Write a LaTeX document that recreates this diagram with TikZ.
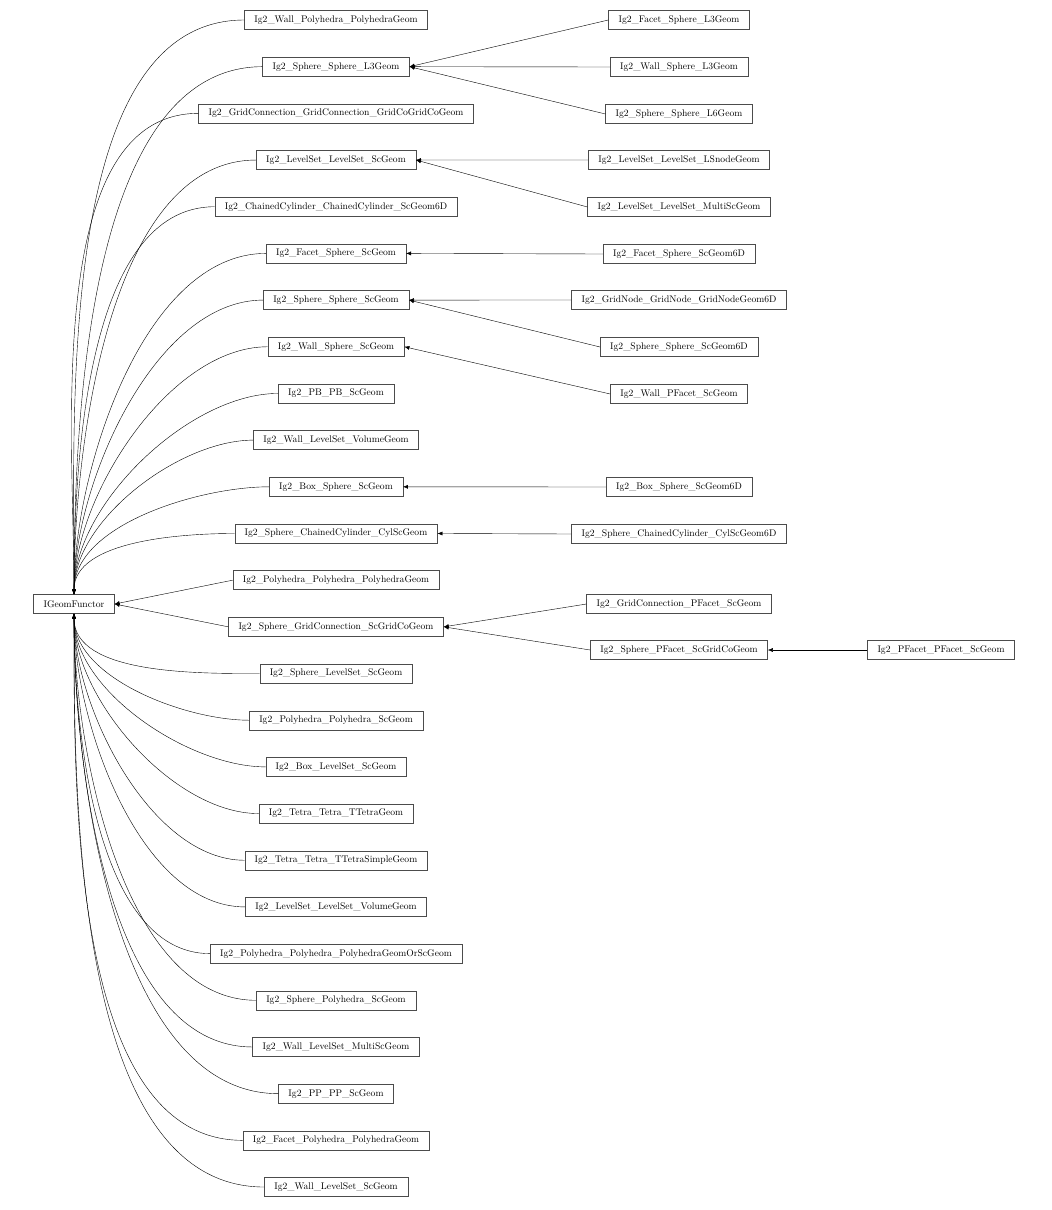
\documentclass[tikz,border=0pt]{standalone}
\usepackage{tikz}
\usetikzlibrary{positioning,arrows.meta}

\begin{document}
\begin{tikzpicture}[x=1pt, y=-1pt,
    cls/.style={draw=black!70, rectangle, minimum height=19pt, inner xsep=10pt,
                font=\fontsize{9.6}{11}\selectfont},
    inh/.style={-{Latex[length=5pt,width=4pt]}, line width=0.4pt}]
        \useasboundingbox (0,0) rectangle (1052,1210);

        \node[cls] (base) at (74,604) {IGeomFunctor};

        \foreach \t [count=\i] in {Ig2\_Wall\_Polyhedra\_PolyhedraGeom, Ig2\_Sphere\_Sphere\_L3Geom,
            Ig2\_GridConnection\_GridConnection\_GridCoGridCoGeom, Ig2\_LevelSet\_LevelSet\_ScGeom,
            Ig2\_ChainedCylinder\_ChainedCylinder\_ScGeom6D, Ig2\_Facet\_Sphere\_ScGeom,
            Ig2\_Sphere\_Sphere\_ScGeom, Ig2\_Wall\_Sphere\_ScGeom, Ig2\_PB\_PB\_ScGeom,
            Ig2\_Wall\_LevelSet\_VolumeGeom, Ig2\_Box\_Sphere\_ScGeom,
            Ig2\_Sphere\_ChainedCylinder\_CylScGeom, Ig2\_Polyhedra\_Polyhedra\_PolyhedraGeom,
            Ig2\_Sphere\_GridConnection\_ScGridCoGeom, Ig2\_Sphere\_LevelSet\_ScGeom,
            Ig2\_Polyhedra\_Polyhedra\_ScGeom, Ig2\_Box\_LevelSet\_ScGeom,
            Ig2\_Tetra\_Tetra\_TTetraGeom, Ig2\_Tetra\_Tetra\_TTetraSimpleGeom,
            Ig2\_LevelSet\_LevelSet\_VolumeGeom, Ig2\_Polyhedra\_Polyhedra\_PolyhedraGeomOrScGeom,
            Ig2\_Sphere\_Polyhedra\_ScGeom, Ig2\_Wall\_LevelSet\_MultiScGeom,
            Ig2\_PP\_PP\_ScGeom, Ig2\_Facet\_Polyhedra\_PolyhedraGeom, Ig2\_Wall\_LevelSet\_ScGeom}
            \node[cls] (l\i) at (336,{20+(\i-1)*46.68}) {\t};

        % edges to the base class
        \foreach \i in {1,...,12}
            \draw[inh] (l\i.west) to[out=180,in=90,looseness=0.8] (base.north);
        \foreach \i in {15,...,26}
            \draw[inh] (l\i.west) to[out=180,in=-90,looseness=0.8] (base.south);
        \draw[inh] (l13.west) -- (base.east);
        \draw[inh] (l14.west) -- (base.east);

        % second level
        \node[cls] (r1) at (679,20) {Ig2\_Facet\_Sphere\_L3Geom};
        \node[cls] (r2) at (679,67) {Ig2\_Wall\_Sphere\_L3Geom};
        \node[cls] (r3) at (679,114) {Ig2\_Sphere\_Sphere\_L6Geom};
        \node[cls] (r4) at (679,160) {Ig2\_LevelSet\_LevelSet\_LSnodeGeom};
        \node[cls] (r5) at (679,207) {Ig2\_LevelSet\_LevelSet\_MultiScGeom};
        \node[cls] (r6) at (679,254) {Ig2\_Facet\_Sphere\_ScGeom6D};
        \node[cls] (r7) at (679,300) {Ig2\_GridNode\_GridNode\_GridNodeGeom6D};
        \node[cls] (r8) at (679,347) {Ig2\_Sphere\_Sphere\_ScGeom6D};
        \node[cls] (r9) at (679,394) {Ig2\_Wall\_PFacet\_ScGeom};
        \node[cls] (r10) at (679,487) {Ig2\_Box\_Sphere\_ScGeom6D};
        \node[cls] (r11) at (679,534) {Ig2\_Sphere\_ChainedCylinder\_CylScGeom6D};
        \node[cls] (r12) at (679,604) {Ig2\_GridConnection\_PFacet\_ScGeom};
        \node[cls] (r13) at (679,650) {Ig2\_Sphere\_PFacet\_ScGridCoGeom};
        \node[cls] (p1) at (941,650) {Ig2\_PFacet\_PFacet\_ScGeom};

        \draw[inh] (r1.west) -- (l2.east);
        \draw[inh] (r2.west) -- (l2.east);
        \draw[inh] (r3.west) -- (l2.east);
        \draw[inh] (r4.west) -- (l4.east);
        \draw[inh] (r5.west) -- (l4.east);
        \draw[inh] (r6.west) -- (l6.east);
        \draw[inh] (r7.west) -- (l7.east);
        \draw[inh] (r8.west) -- (l7.east);
        \draw[inh] (r9.west) -- (l8.east);
        \draw[inh] (r10.west) -- (l11.east);
        \draw[inh] (r11.west) -- (l12.east);
        \draw[inh] (r12.west) -- (l14.east);
        \draw[inh] (r13.west) -- (l14.east);
        \draw[inh] (p1.west) -- (r13.east);
\end{tikzpicture}
\end{document}
